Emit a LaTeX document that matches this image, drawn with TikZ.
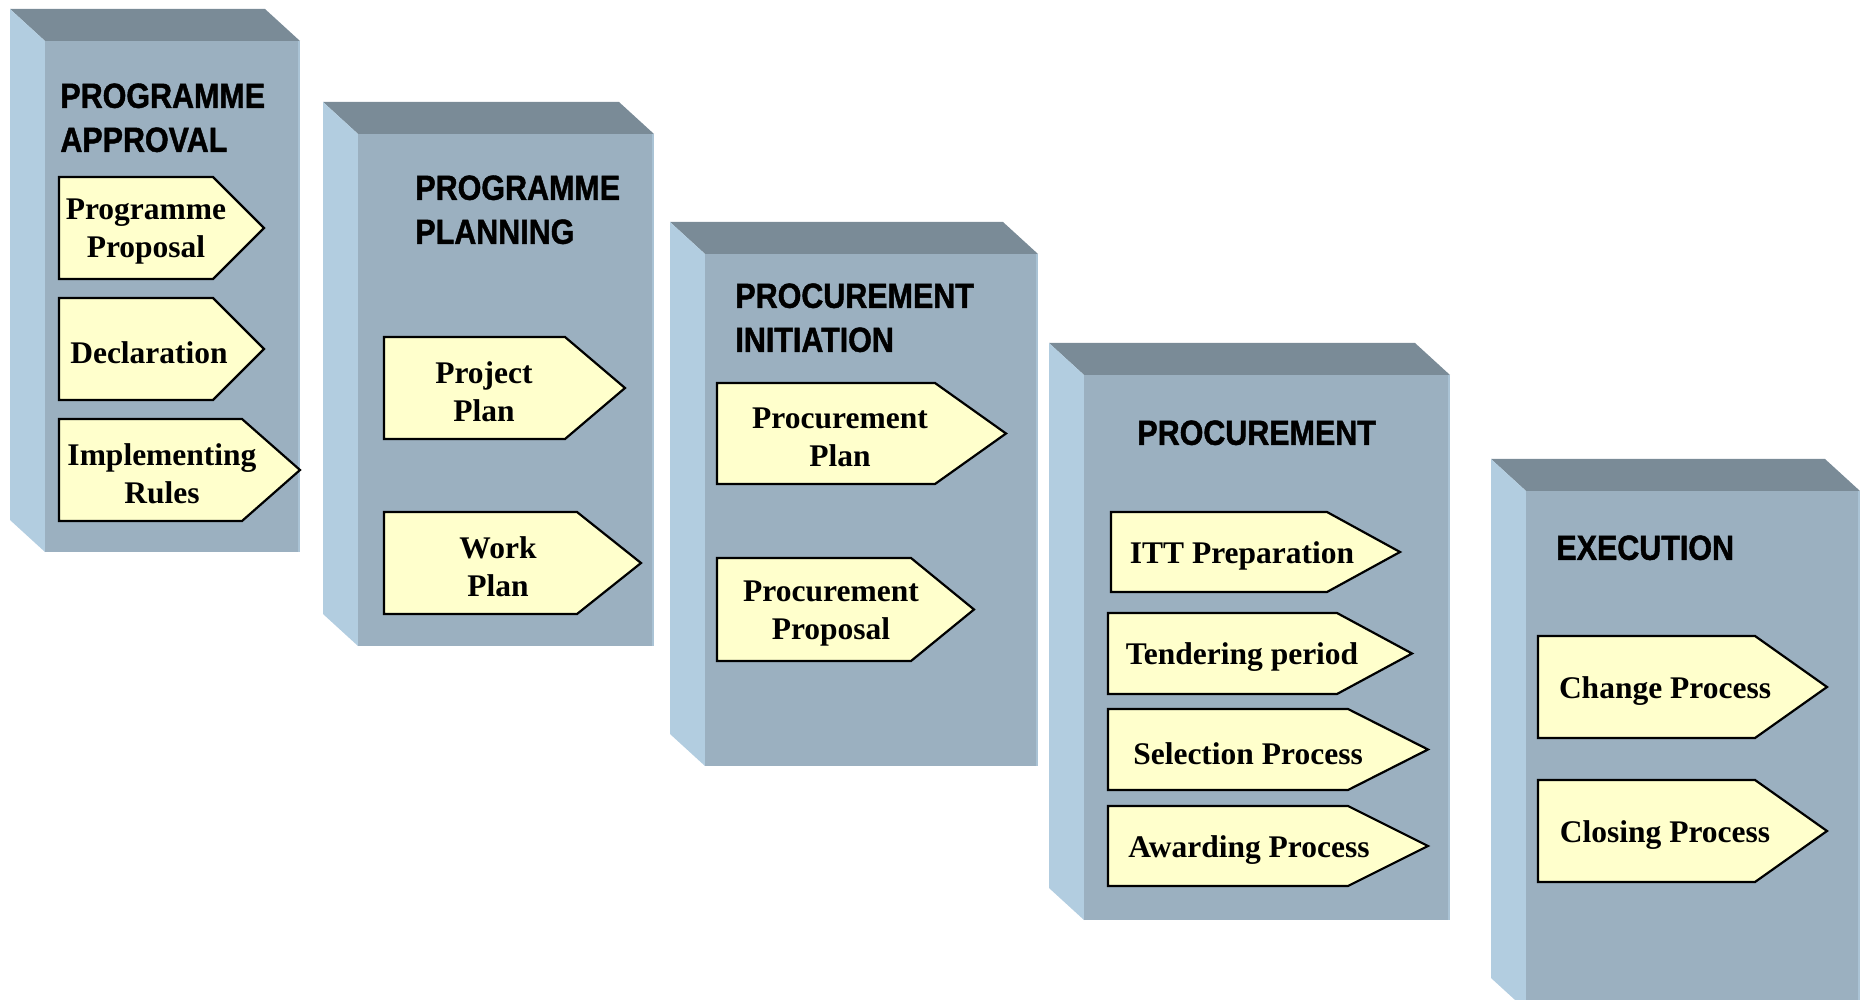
\documentclass[tikz,border=0pt]{standalone}
\usepackage{fontspec}
\setmainfont{Liberation Serif}
\newfontfamily\headfont[FakeStretch=0.87,FakeBold=1.2]{Liberation Sans}
\usepackage{xcolor}
\usepackage{tikz}
\usetikzlibrary{calc}
\usetikzlibrary{positioning}

\definecolor{facefront}{HTML}{9BB0C0}
\definecolor{facetop}{HTML}{7A8B97}
\definecolor{faceside}{HTML}{B2CDE0}
\definecolor{faceedge}{HTML}{AAC3D5}
\definecolor{signfill}{HTML}{FFFFCC}

\newcommand{\titlefont}{\headfont\bfseries\fontsize{17.5}{22}\selectfont}
\newcommand{\signfont}{\bfseries\fontsize{15.75}{19}\selectfont}

\tikzstyle{frontface} = [fill=facefront]
\tikzstyle{topface} = [fill=facetop]
\tikzstyle{sideface} = [fill=faceside]
\tikzstyle{rimline} = [draw=faceedge, line width=1pt]
\tikzstyle{signbox} = [draw=black, fill=signfill, line width=1.1pt, line join=miter]
\tikzstyle{signtext} = [align=center, inner sep=0pt, font=\signfont]
\tikzstyle{stagetitle} = [align=left, anchor=north west, inner sep=0pt, font=\titlefont]

% box of one stage: front left, front top, front right, bottom
\newcommand{\drawstage}[4]{%
  \fill[topface] (#1-35,#2-32) -- (#3-35,#2-32) -- (#3,#2) -- (#1,#2) -- cycle;
  \fill[sideface] (#1-35,#2-32) -- (#1,#2) -- (#1,#4) -- (#1-35,#4-32) -- cycle;
  \fill[frontface] (#1,#2) rectangle (#3,#4);
  \draw[rimline] (#3-1,#2) -- (#3-1,#4);}

% pointed sign: name, left, top, right, tip, bottom, text x, text
\newcommand{\drawsign}[8]{%
  \draw[signbox] (#2,#3) -- (#4,#3) -- (#5,{(#3+#6)/2}) -- (#4,#6) -- (#2,#6) -- cycle;
  \node[signtext] (#1) at (#7,{(#3+#6)/2+4}) {#8};}

\begin{document}
\begin{tikzpicture}[x=0.5pt, y=-0.5pt]
\useasboundingbox (0,0) rectangle (1860,1000);

\drawstage{45}{41}{300}{552}
\drawstage{358}{134}{654}{646}
\drawstage{705}{254}{1038}{766}
\drawstage{1084}{375}{1450}{920}
\drawstage{1526}{491}{1860}{1010}

\node[stagetitle] (approval) at (60,83) {PROGRAMME\\APPROVAL};
\node[stagetitle] (planning) at (415,175) {PROGRAMME\\PLANNING};
\node[stagetitle] (initiation) at (735,283) {PROCUREMENT\\INITIATION};
\node[stagetitle] (procurement) at (1137,420) {PROCUREMENT};
\node[stagetitle] (execution) at (1556,535) {EXECUTION};

\drawsign{proposal}{59}{177}{213}{264}{279}{146}{Programme\\Proposal}
\drawsign{declaration}{59}{298}{213}{264}{400}{149}{Declaration}
\drawsign{rules}{59}{419}{242}{300}{521}{162}{Implementing\\Rules}

\drawsign{projectplan}{384}{337}{565}{625}{439}{484}{Project\\Plan}
\drawsign{workplan}{384}{512}{577}{641}{614}{498}{Work\\Plan}

\drawsign{procplan}{717}{383}{935}{1006}{484}{840}{Procurement\\Plan}
\drawsign{procproposal}{717}{558}{911}{974}{661}{831}{Procurement\\Proposal}

\drawsign{itt}{1111}{512}{1327}{1400}{592}{1242}{ITT Preparation}
\drawsign{tendering}{1108}{613}{1337}{1412}{694}{1242}{Tendering period}
\drawsign{selection}{1108}{709}{1348}{1428}{790}{1248}{Selection Process}
\drawsign{awarding}{1108}{806}{1348}{1428}{886}{1249}{Awarding Process}

\drawsign{change}{1538}{636}{1755}{1827}{738}{1665}{Change Process}
\drawsign{closing}{1538}{780}{1755}{1827}{882}{1665}{Closing Process}
\end{tikzpicture}
\end{document}
